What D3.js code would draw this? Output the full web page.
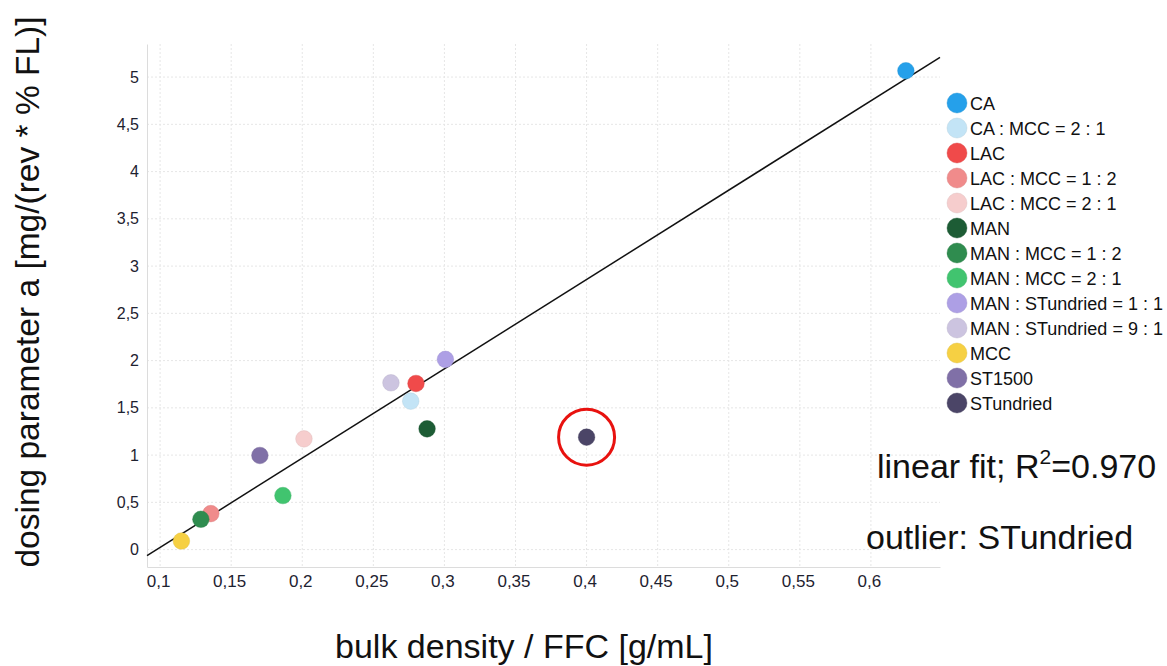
<!DOCTYPE html>
<html>
<head>
<meta charset="utf-8">
<script src="https://cdn.jsdelivr.net/npm/d3@7"></script>
<style>
  body { margin: 0; background: #fff; }
  text { font-family: "Liberation Sans", Arial, sans-serif; }
</style>
</head>
<body>
<div id="chart"></div>
<script>
const names = [
  "CA", "CA : MCC = 2 : 1", "LAC", "LAC : MCC = 1 : 2", "LAC : MCC = 2 : 1",
  "MAN", "MAN : MCC = 1 : 2", "MAN : MCC = 2 : 1", "MAN : STundried = 1 : 1",
  "MAN : STundried = 9 : 1", "MCC", "ST1500", "STundried"
];
const colors = [
  "#25a0ea", "#c3e4f6", "#f04a4a", "#f08b8b", "#f6cdcd",
  "#1d5c35", "#2f8c4f", "#41c46f", "#ad9fe5",
  "#ccc4e0", "#f6d043", "#8070a7", "#4b4567"
];
const density = [0.6246, 0.2763, 0.2800, 0.1357, 0.2012, 0.2878, 0.1287, 0.1864, 0.3007, 0.2624, 0.1150, 0.1702, 0.4000];
const dosing = [5.067, 1.571, 1.758, 0.381, 1.172, 1.278, 0.321, 0.572, 2.013, 1.765, 0.091, 0.996, 1.19];
const xTicks = [0.1, 0.15, 0.2, 0.25, 0.3, 0.35, 0.4, 0.45, 0.5, 0.55, 0.6];
const yTicks = [0, 0.5, 1, 1.5, 2, 2.5, 3, 3.5, 4, 4.5, 5];
const fitSlope = 9.453;
const fitIntercept = -0.923;
const outlier = "STundried";

const W = 1167, H = 666;
const pl = 147, pr = 940, pt = 44, pb = 567;

const svg = d3.select("#chart").append("svg")
  .attr("width", W).attr("height", H);

const x = d3.scaleLinear().domain([0.0908, 0.6486]).range([pl, pr]);
const y = d3.scaleLinear().domain([-0.184, 5.35]).range([pb, pt]);

const loc = d3.formatLocale({ decimal: ",", thousands: ".", grouping: [3], currency: ["", ""] });
const fmt = (v) => loc.format("~g")(v);

// grid
svg.append("g").selectAll("line").data(xTicks).enter().append("line")
  .attr("x1", (d) => x(d)).attr("x2", (d) => x(d))
  .attr("y1", pt).attr("y2", pb)
  .attr("stroke", "#e6e6e6").attr("stroke-dasharray", "2,2");
svg.append("g").selectAll("line").data(yTicks).enter().append("line")
  .attr("x1", pl).attr("x2", pr)
  .attr("y1", (d) => y(d)).attr("y2", (d) => y(d))
  .attr("stroke", "#e6e6e6").attr("stroke-dasharray", "2,2");

// axes
const xAxis = svg.append("g")
  .attr("transform", "translate(0," + pb + ")")
  .call(d3.axisBottom(x).tickValues(xTicks).tickFormat(fmt).tickSize(0).tickPadding(7));
const yAxis = svg.append("g")
  .attr("transform", "translate(" + pl + ",0)")
  .call(d3.axisLeft(y).tickValues(yTicks).tickFormat(fmt).tickSize(0).tickPadding(8));
[xAxis, yAxis].forEach((a) => {
  a.select(".domain").attr("stroke", "#dcdcdc");
  a.selectAll("text").attr("fill", "#1e2230")
    .attr("font-family", "'Liberation Sans', Arial, sans-serif");
});
yAxis.selectAll("text").attr("font-size", 16);
xAxis.selectAll("text").attr("font-size", 17).attr("dy", "0.78em").attr("dx", -2);

// fit line
const x0 = x.domain()[0], x1 = x.domain()[1];
svg.append("line")
  .attr("x1", x(x0)).attr("y1", y(fitSlope * x0 + fitIntercept))
  .attr("x2", x(x1)).attr("y2", y(fitSlope * x1 + fitIntercept))
  .attr("stroke", "#111").attr("stroke-width", 1.5);

// points
const data = names.map((n, i) => ({ name: n, color: colors[i], x: density[i], y: dosing[i] }));
svg.append("g").selectAll("circle").data(data).enter().append("circle")
  .attr("cx", (d) => x(d.x)).attr("cy", (d) => y(d.y)).attr("r", 8.3)
  .attr("fill", (d) => d.color)
  .attr("stroke", (d) => d3.color(d.color).darker(0.3))
  .attr("stroke-opacity", 0.4);

// outlier ring
const o = data.find((d) => d.name === outlier);
svg.append("circle")
  .attr("cx", x(o.x)).attr("cy", y(o.y)).attr("r", 28)
  .attr("fill", "none").attr("stroke", "#e8120f").attr("stroke-width", 3);

// legend
const legend = svg.append("g").selectAll("g").data(data).enter().append("g")
  .attr("transform", (d, i) => "translate(957," + (103 + i * 25) + ")");
legend.append("circle").attr("r", 10)
  .attr("fill", (d) => d.color)
  .attr("stroke", (d) => d3.color(d.color).darker(0.3)).attr("stroke-opacity", 0.4);
legend.append("text").attr("x", 13).attr("y", 6.5)
  .attr("font-size", 18).attr("fill", "#111").text((d) => d.name);

// annotations
const fit = svg.append("text").attr("x", 877).attr("y", 478)
  .attr("font-size", 34).attr("fill", "#111");
fit.append("tspan").text("linear fit; R");
fit.append("tspan").attr("font-size", 21).attr("dy", -14).text("2");
fit.append("tspan").attr("dy", 14).text("=0.970");
svg.append("text").attr("x", 866).attr("y", 549)
  .attr("font-size", 34).attr("fill", "#111").text("outlier: " + outlier);

// axis titles
svg.append("text").attr("x", 524).attr("y", 658).attr("text-anchor", "middle")
  .attr("font-size", 34).attr("fill", "#111").text("bulk density / FFC [g/mL]");
svg.append("text").attr("transform", "translate(39,292) rotate(-90)")
  .attr("text-anchor", "middle").attr("font-size", 33.5).attr("fill", "#111")
  .text("dosing parameter a [mg/(rev * % FL)]");
</script>
</body>
</html>
